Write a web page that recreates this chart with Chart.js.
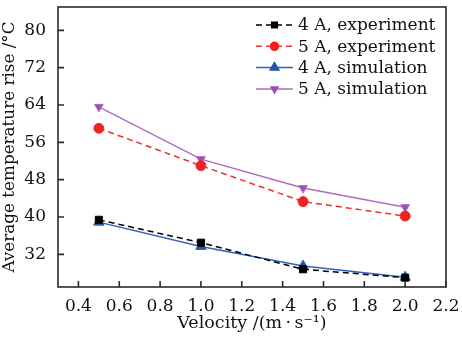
<!DOCTYPE html>
<html>
<head>
<meta charset="utf-8">
<script src="https://cdn.jsdelivr.net/npm/chart.js@4/dist/chart.umd.min.js"></script>
<style>
  html, body { margin: 0; padding: 0; background: #fff; }
  #wrap { width: 462px; height: 340px; }
</style>
</head>
<body>
<div id="wrap"><canvas id="chart"></canvas></div>
<script>
const velocity = [0.5, 1.0, 1.5, 2.0];
const exp4A = [39.4, 34.5, 28.8, 27.0];
const exp5A = [59.0, 51.0, 43.3, 40.2];
const sim4A = [38.9, 33.7, 29.5, 27.1];
const sim5A = [63.6, 52.4, 46.2, 42.1];
const xTicks = [0.4, 0.6, 0.8, 1.0, 1.2, 1.4, 1.6, 1.8, 2.0, 2.2];
const yTicks = [32, 40, 48, 56, 64, 72, 80];

const FONT = "'DejaVu Serif', 'Liberation Serif', serif";
const AXIS = "#2b2b2b";

function pts(ys) {
    return velocity.map((v, i) => ({ x: v, y: ys[i] }));
}

const datasets = [
    {
        label: "4 A, experiment",
        data: pts(exp4A),
        borderColor: "#000000",
        backgroundColor: "#000000",
        borderDash: [6, 4],
        pointStyle: "rect",
        pointRadius: 5,
    },
    {
        label: "5 A, experiment",
        data: pts(exp5A),
        borderColor: "#f03030",
        backgroundColor: "#ee2222",
        borderDash: [6, 4],
        pointStyle: "circle",
        pointRadius: 5,
    },
    {
        label: "4 A, simulation",
        data: pts(sim4A),
        borderColor: "#2f62b8",
        backgroundColor: "#2456a8",
        pointStyle: "triangle",
        pointRadius: 6,
    },
    {
        label: "5 A, simulation",
        data: pts(sim5A),
        borderColor: "#b06cc0",
        backgroundColor: "#9a50b0",
        pointStyle: "triangle",
        rotation: 180,
        pointRadius: 5,
    },
];

// frame, inward ticks and legend
const decorations = {
    id: "decorations",
    afterDraw(chart) {
        const ctx = chart.ctx;
        const a = chart.chartArea;
        ctx.save();
        ctx.strokeStyle = AXIS;
        ctx.lineWidth = 1.6;
        ctx.strokeRect(a.left, a.top, a.right - a.left, a.bottom - a.top);

        const xs = chart.scales.x, ys = chart.scales.y;
        ctx.beginPath();
        xTicks.forEach(v => {
            const px = xs.getPixelForValue(v);
            ctx.moveTo(px, a.bottom);
            ctx.lineTo(px, a.bottom - 6);
        });
        yTicks.forEach(v => {
            const py = ys.getPixelForValue(v);
            ctx.moveTo(a.left, py);
            ctx.lineTo(a.left + 6, py);
        });
        ctx.stroke();

        // legend
        ctx.font = "17px " + FONT;
        ctx.textBaseline = "middle";
        chart.data.datasets.forEach((ds, i) => {
            const y = 25 + i * 21.3;
            const x0 = 256, x1 = 293;
            ctx.save();
            ctx.strokeStyle = ds.borderColor;
            ctx.lineWidth = 1.5;
            ctx.setLineDash(ds.borderDash || []);
            ctx.beginPath();
            ctx.moveTo(x0, y);
            ctx.lineTo(x1, y);
            ctx.stroke();
            ctx.setLineDash([]);
            ctx.fillStyle = ds.backgroundColor;
            ctx.strokeStyle = ds.backgroundColor;
            Chart.helpers.drawPoint(ctx, {
                pointStyle: ds.pointStyle,
                radius: ds.pointRadius - 1,
                rotation: ds.rotation || 0,
                borderWidth: 1,
            }, (x0 + x1) / 2, y);
            ctx.restore();
            ctx.fillStyle = "#111";
            ctx.fillText(ds.label, 298, y + 1);
        });
        ctx.restore();
    }
};

new Chart(document.getElementById("chart"), {
    type: "line",
    data: { datasets: datasets },
    options: {
        responsive: true,
        maintainAspectRatio: false,
        animation: false,
        layout: { padding: { top: 7, right: 16, left: 0, bottom: 0 } },
        elements: {
            line: { borderWidth: 1.5, tension: 0 },
            point: { borderWidth: 1 },
        },
        plugins: {
            legend: { display: false },
            tooltip: { enabled: false },
        },
        scales: {
            x: {
                type: "linear",
                min: 0.3,
                max: 2.2,
                afterBuildTicks(scale) {
                    scale.ticks = xTicks.map(v => ({ value: v }));
                },
                afterFit(scale) { scale.height = 53; },
                grid: { display: false },
                border: { display: false },
                ticks: {
                    color: "#111",
                    font: { family: FONT, size: 17 },
                    padding: 1,
                    maxRotation: 0,
                    callback: v => v.toFixed(1),
                },
                title: {
                    display: true,
                    text: "Velocity /(m\u2009\u00b7\u2009s\u207b\u00b9)",
                    color: "#111",
                    font: { family: FONT, size: 17.5 },
                    padding: { top: 0, bottom: 6 },
                },
            },
            y: {
                min: 25,
                max: 85,
                afterBuildTicks(scale) {
                    scale.ticks = yTicks.map(v => ({ value: v }));
                },
                afterFit(scale) {
                    scale.width = 58;
                    scale.paddingTop = 0;
                    scale.paddingBottom = 0;
                },
                grid: { display: false },
                border: { display: false },
                ticks: {
                    color: "#111",
                    font: { family: FONT, size: 17 },
                    padding: 4,
                },
                title: {
                    display: true,
                    text: "Average temperature rise /\u00b0C",
                    color: "#111",
                    font: { family: FONT, size: 16.8 },
                    padding: { top: 0, bottom: 0 },
                },
            },
        },
    },
    plugins: [decorations],
});
</script>
</body>
</html>
